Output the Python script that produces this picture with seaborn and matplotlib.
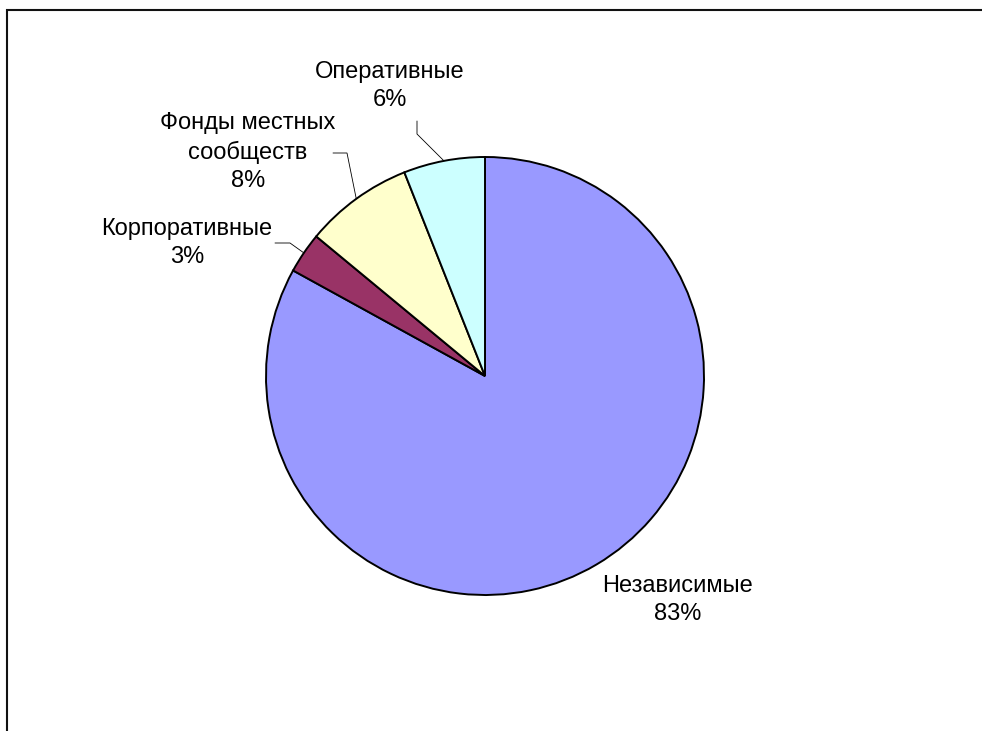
import numpy as np
import matplotlib
matplotlib.use("Agg")
import matplotlib.pyplot as plt
from matplotlib.patches import Rectangle
import seaborn as sns

# Foundation types and their shares (%)
categories = ["Независимые", "Корпоративные", "Фонды местных\nсообществ", "Оперативные"]
shares = [83, 3, 8, 6]
colors = ["#9999FF", "#993366", "#FFFFCC", "#CCFFFF"]

sns.set_theme(style="white")
plt.rcParams["font.family"] = ["Liberation Sans", "DejaVu Sans"]

W, H, DPI = 982, 731, 100
fig = plt.figure(figsize=(W / DPI, H / DPI), dpi=DPI)
fig.patch.set_facecolor("white")

# Axes filling the figure; one data unit = pie radius (219 px), centre at (485, 376) px
R_PX, CX, CY = 219.0, 485.0, 376.0
ax = fig.add_axes([0, 0, 1, 1])

wedges, _ = ax.pie(
    shares, colors=colors, startangle=90, counterclock=False, radius=1.0,
    wedgeprops=dict(edgecolor="black", linewidth=1.4),
)
ax.set_aspect("auto")
ax.set_xlim(-CX / R_PX, (W - CX) / R_PX)
ax.set_ylim((CY - H) / R_PX, CY / R_PX)
ax.axis("off")


def px(x, y):
    """Pixel position (from top-left) to data coordinates."""
    return (x - CX) / R_PX, (CY - y) / R_PX


# Label block centres and leader elbows (pixel layout)
label_pos = [px(678, 600), px(187, 243), px(248, 152), px(390, 86)]
leaders = [
    None,
    [px(275, 243), px(290, 243)],
    [px(333, 153), px(347, 153)],
    [px(417, 121), px(417, 134)],
]

for w, name, val, pos, lead in zip(wedges, categories, shares, label_pos, leaders):
    ax.text(pos[0], pos[1], f"{name}\n{val}%", ha="center", va="center",
            fontsize=17, color="black", linespacing=1.36)
    if lead is not None:
        mid = np.deg2rad((w.theta1 + w.theta2) / 2)
        end = (np.cos(mid), np.sin(mid))
        xs = [p[0] for p in lead] + [end[0]]
        ys = [p[1] for p in lead] + [end[1]]
        ax.plot(xs, ys, color="black", linewidth=0.6)

# Chart-area border
fig.patches.append(Rectangle((7 / W, -0.1), 2.0, (H - 10) / H + 0.1,
                             transform=fig.transFigure, fill=False,
                             edgecolor="#111111", linewidth=1.5))

fig.savefig("out.png", dpi=DPI, facecolor="white")
